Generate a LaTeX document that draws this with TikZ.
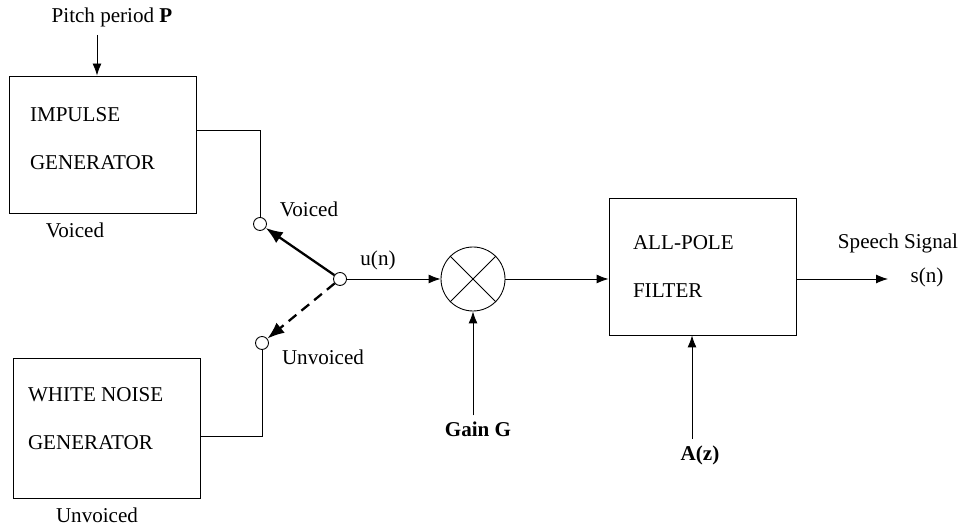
\documentclass[tikz,border=0pt]{standalone}
\usepackage{fontspec}
\setmainfont{Liberation Serif}
\usetikzlibrary{arrows.meta, positioning, calc}

\begin{document}
\begin{tikzpicture}[font=\fontsize{12}{14.4}\selectfont, line width=0.5pt,
    >={Latex[length=2.4mm,width=1.8mm]},
    blk/.style={draw, minimum width=3.74cm, minimum height=2.74cm},
    blktxt/.style={anchor=north west, align=left, inner sep=0pt},
    dot/.style={draw, circle, minimum size=0.26cm, inner sep=0pt},
    swarr/.style={-{Latex[length=3.4mm,width=2.6mm]}, line width=1.3pt}]
    \useasboundingbox (0,0) rectangle (19.26,10.54);

    % sources
    \node[blk] (imp) at (2.05,7.65) {};
    \node[blktxt] at ([xshift=4.2mm,yshift=-6.4mm]imp.north west) {IMPULSE\\[12.4pt]GENERATOR};
    \node[blk, minimum height=2.8cm] (wn) at (2.13,1.98) {};
    \node[blktxt] at ([xshift=3.0mm,yshift=-6.0mm]wn.north west) {WHITE NOISE\\[12.4pt]GENERATOR};
    \node at (1.5,5.94) {Voiced};
    \node at (1.94,0.24) {Unvoiced};
    \node (pitch) at (2.24,10.2) {Pitch period \textbf{P}};
    \coordinate (pp) at (1.94,9.84);
    \draw[->] (pp) -- (imp.north -| pp);

    % switch
    \node[dot] (vc) at (5.2,6.06) {};
    \node[dot] (uc) at (5.24,3.68) {};
    \node[dot] (sw) at (6.8,4.96) {};
    \node at (6.18,6.36) {Voiced};
    \node at (6.46,3.4) {Unvoiced};
    \node at (7.56,5.34) {u(n)};
    \draw ([yshift=2.9mm]imp.east) -| (vc.north);
    \draw ([yshift=-1.6mm]wn.east) -| (uc.south);
    \draw[swarr] (sw) -- (vc);
    \draw[swarr, dashed, dash pattern=on 2mm off 1.3mm] (sw) -- (uc);

    % gain
    \node[draw, circle, minimum size=1.28cm, inner sep=0pt] (m) at (9.46,4.96) {};
    \draw (m.north west) -- (m.south east);
    \draw (m.north east) -- (m.south west);
    \draw[->] (sw) -- (m);
    \node[font=\fontsize{12}{14.4}\selectfont\bfseries] (gain) at (9.56,1.96) {Gain G};
    \draw[->] (gain.north -| m) -- (m.south);

    % filter
    \node[blk] (flt) at (14.05,5.21) {};
    \node[blktxt] at ([xshift=4.8mm,yshift=-7.6mm]flt.north west) {ALL-POLE\\[12.4pt]FILTER};
    \draw[->] (m.east) -- (m.east -| flt.west);
    \node[font=\fontsize{12}{14.4}\selectfont\bfseries] (az) at (14.0,1.44) {A(z)};
    \draw[->] ([xshift=-1.6mm]az.north) -- ([xshift=-1.6mm]az.north |- flt.south);
    \coordinate (out) at (17.76,4.96);
    \draw[->] (flt.east |- out) -- (out);
    \node at (17.96,5.68) {Speech Signal};
    \node at (18.54,5.0) {s(n)};
\end{tikzpicture}
\end{document}
